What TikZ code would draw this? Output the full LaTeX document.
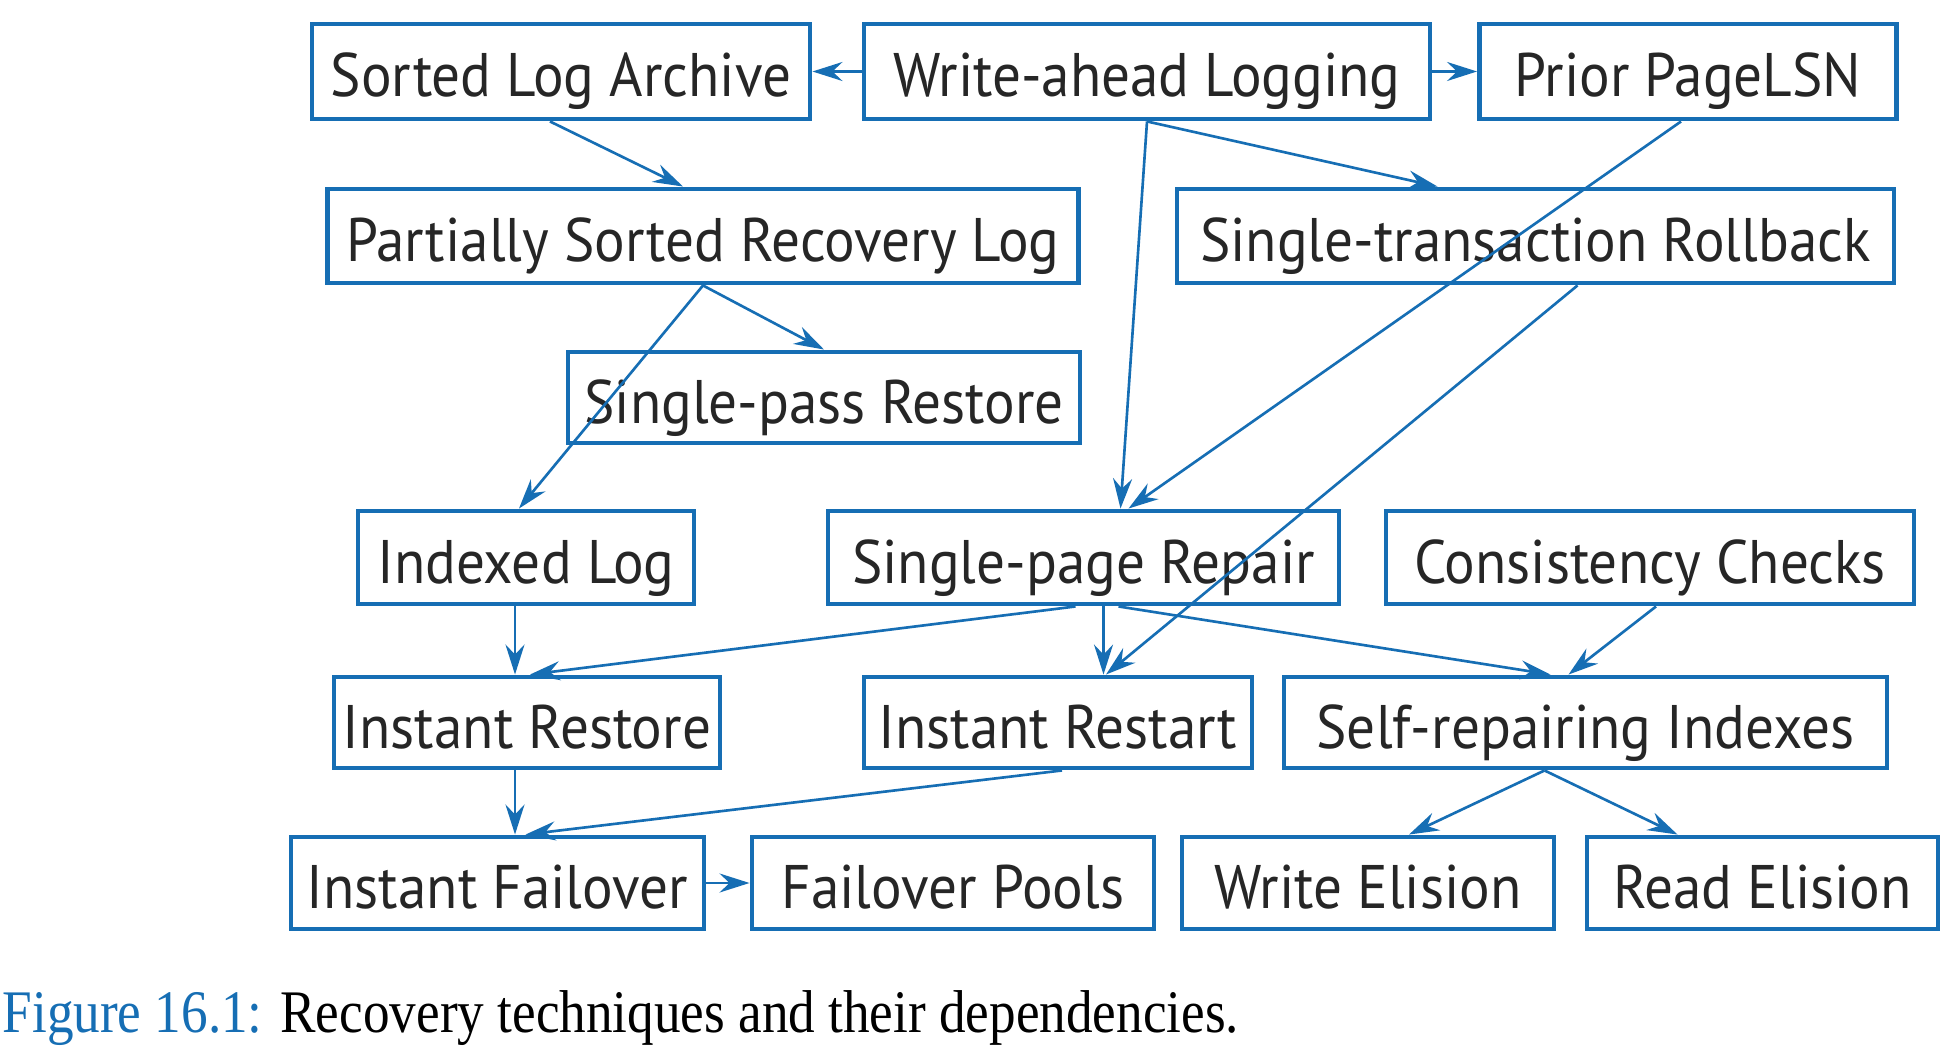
\documentclass[tikz,border=0pt]{standalone}
\usepackage{fontspec}
\setmainfont{Liberation Serif}[FakeStretch=0.88]
\newfontfamily\boxfont{PT Sans}[FakeStretch=0.93]
\usetikzlibrary{arrows.meta}
\definecolor{figblue}{RGB}{22,110,180}
\tikzstyle{box} = [draw=figblue, line width=1.4pt, fill=white, inner sep=0pt, text height=0.51cm, text depth=0cm, text=black!85, font=\boxfont\fontsize{17.5}{20}\selectfont]
\tikzstyle{arrow} = [figblue, line width=0.75pt, -{Stealth[length=3mm,width=1.9mm,inset=1mm]}]

\begin{document}
\begin{tikzpicture}
    \useasboundingbox (0,0) rectangle (19.49,-10.60);
    \fill[white] (0,0) rectangle (19.49,-10.60);
    % first row
    \node[box, minimum width=4.98cm, minimum height=0.95cm] (sla) at (5.61,-0.715) {Sorted Log Archive};
    \node[box, minimum width=5.66cm, minimum height=0.95cm] (wal) at (11.47,-0.715) {Write-ahead Logging};
    \node[box, minimum width=4.17cm, minimum height=0.95cm] (pls) at (16.88,-0.715) {Prior PageLSN};
    % second and third row
    \node[box, minimum width=7.51cm, minimum height=0.94cm] (psrl) at (7.03,-2.36) {Partially Sorted Recovery Log};
    \node[box, minimum width=7.17cm, minimum height=0.94cm] (str) at (15.355,-2.36) {Single-transaction Rollback};
    \node[box, minimum width=5.12cm, minimum height=0.91cm] (spr) at (8.24,-3.975) {Single-pass Restore};
    % fourth row
    \node[box, minimum width=3.36cm, minimum height=0.93cm] (il) at (5.26,-5.575) {Indexed Log};
    \node[box, minimum width=5.11cm, minimum height=0.93cm] (sprep) at (10.835,-5.575) {Single-page Repair};
    \node[box, minimum width=5.28cm, minimum height=0.93cm] (cc) at (16.50,-5.575) {Consistency Checks};
    % fifth row
    \node[box, minimum width=3.86cm, minimum height=0.91cm] (irs) at (5.27,-7.225) {Instant Restore};
    \node[box, minimum width=3.88cm, minimum height=0.91cm] (irt) at (10.58,-7.225) {Instant Restart};
    \node[box, minimum width=6.03cm, minimum height=0.91cm] (sri) at (15.855,-7.225) {Self-repairing Indexes};
    % last row
    \node[box, minimum width=4.13cm, minimum height=0.92cm] (ifo) at (4.975,-8.83) {Instant Failover};
    \node[box, minimum width=4.02cm, minimum height=0.92cm] (fp) at (9.53,-8.83) {Failover Pools};
    \node[box, minimum width=3.72cm, minimum height=0.92cm] (we) at (13.68,-8.83) {Write Elision};
    \node[box, minimum width=3.51cm, minimum height=0.92cm] (re) at (17.625,-8.83) {Read Elision};

    % dependencies
    \draw[arrow] (wal.west) -- (sla.east);
    \draw[arrow] (wal.east) -- (pls.west);
    \draw[arrow] ([xshift=-0.11cm]sla.south) -- ([xshift=-0.2cm]psrl.north);
    \draw[arrow] (wal.south) -- ([xshift=-0.98cm]str.north);
    \draw[arrow] (wal.south) -- ([xshift=0.37cm]sprep.north);
    \draw[arrow] ([xshift=-0.07cm]pls.south) -- ([xshift=0.45cm]sprep.north);
    \draw[arrow] (psrl.south) -- (spr.north);
    \draw[arrow] (psrl.south) -- ([xshift=-0.07cm]il.north);
    \draw[arrow] ([xshift=0.42cm]str.south) -- ([xshift=0.48cm]irt.north);
    \draw[arrow] ([xshift=-0.11cm]il.south) -- ([xshift=-0.11cm]il.south |- irs.north);
    \draw[arrow] ([xshift=-0.08cm]sprep.south) -- ([xshift=0.03cm]irs.north);
    \draw[arrow] ([xshift=0.2cm]sprep.south) -- ([xshift=0.2cm]sprep.south |- irt.north);
    \draw[arrow] ([xshift=0.35cm]sprep.south) -- ([xshift=-0.35cm]sri.north);
    \draw[arrow] ([xshift=0.06cm]cc.south) -- ([xshift=-0.17cm]sri.north);
    \draw[arrow] ([xshift=-0.12cm]irs.south) -- ([xshift=-0.12cm]irs.south |- ifo.north);
    \draw[arrow] ([xshift=0.04cm]irt.south) -- ([xshift=0.28cm]ifo.north);
    \draw[arrow] (ifo.east) -- (fp.west);
    \draw[arrow] ([xshift=-0.41cm]sri.south) -- ([xshift=0.41cm]we.north);
    \draw[arrow] ([xshift=-0.41cm]sri.south) -- ([xshift=-0.85cm]re.north);

    % caption
    \node[anchor=base west, inner sep=0pt, font=\fontsize{17.2}{20}\selectfont] (caption) at (0.02,-10.32)
        {\textcolor{figblue}{Figure 16.1:} Recovery techniques and their dependencies.};
\end{tikzpicture}
\end{document}
